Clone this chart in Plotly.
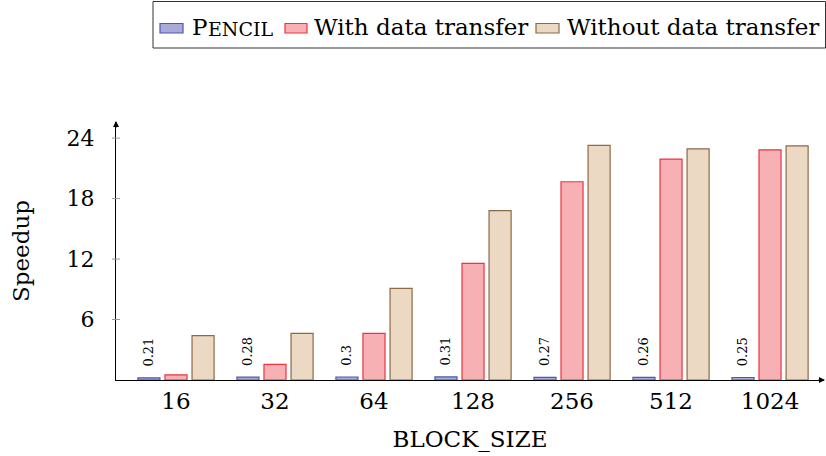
import plotly.graph_objects as go

categories = ["16", "32", "64", "128", "256", "512", "1024"]
pencil = [0.21, 0.28, 0.30, 0.31, 0.27, 0.26, 0.25]
with_transfer = [0.5, 1.56, 4.63, 11.57, 19.67, 21.92, 22.84]
without_transfer = [4.4, 4.63, 9.09, 16.8, 23.28, 22.94, 23.24]
pencil_labels = ["0.21", "0.28", "0.3", "0.31", "0.27", "0.26", "0.25"]
y_ticks = [6, 12, 18, 24]

W, H = 826, 456
ML, MR, MT, MB = 116, 2, 122, 76
PW, PH = W - ML - MR, H - MT - MB
FONT = "DejaVu Serif"

def px(x):
    return (x - ML) / PW

def py(y):
    return (H - MB - y) / PH

styles = [
    ("Pencil", pencil, "#a9a9da", "#4a5aae"),
    ("With data transfer", with_transfer, "#f7b0b3", "#ee3340"),
    ("Without data transfer", without_transfer, "#ecd9c4", "#8c6a46"),
]

fig = go.Figure()
for i, (name, vals, fill, line) in enumerate(styles):
    kw = {}
    if i == 0:
        kw = dict(text=pencil_labels, texttemplate="\u00a0\u00a0%{text}",
                  textposition="outside", textangle=-90,
                  textfont=dict(family=FONT, size=13, color="black"),
                  constraintext="none", cliponaxis=False)
    fig.add_trace(go.Bar(x=categories, y=vals, name=name, showlegend=False,
                         marker=dict(color=fill, line=dict(color=line, width=1.2)),
                         **kw))

shapes = []
# y tick marks (both sides of axis)
for t in y_ticks:
    shapes.append(dict(type="line", xref="paper", yref="y", x0=px(112), x1=px(120),
                       y0=t, y1=t, line=dict(color="#999999", width=1)))

# legend box
shapes.append(dict(type="rect", xref="paper", yref="paper", x0=px(153), x1=px(825.5),
                   y0=py(48), y1=py(1.5), line=dict(color="#333333", width=1),
                   fillcolor="white", layer="above"))
icons = [(160, 183), (285, 307), (536, 559)]
for (x0, x1), (_, _, fill, line) in zip(icons, styles):
    shapes.append(dict(type="rect", xref="paper", yref="paper", x0=px(x0), x1=px(x1),
                       y0=py(33), y1=py(23.5), line=dict(color=line, width=1.2),
                       fillcolor=fill, layer="above"))

annotations = []
# legend texts: (text, left x, font size, y shift)
leg_items = [("P", 190, 23, 0), ("ENCIL", 205.5, 19, -1.5),
             ("With data transfer", 312, 23, 0),
             ("Without data transfer", 565, 23, 0)]
for t, x, s, sh in leg_items:
    annotations.append(dict(text=t, xref="paper", yref="paper", x=px(x), y=py(27),
                            xanchor="left", yanchor="middle", yshift=sh,
                            showarrow=False,
                            font=dict(family=FONT, size=s, color="black")))

# axis arrows
annotations.append(dict(xref="paper", yref="paper", x=px(116), y=py(121), ax=0, ay=8,
                        axref="pixel", ayref="pixel", showarrow=True, arrowhead=2,
                        arrowsize=1, arrowwidth=1.2, arrowcolor="black", text=""))
annotations.append(dict(xref="paper", yref="paper", x=px(825), y=py(380), ax=-8, ay=0,
                        axref="pixel", ayref="pixel", showarrow=True, arrowhead=2,
                        arrowsize=1, arrowwidth=1.2, arrowcolor="black", text=""))

fig.update_layout(
    width=W, height=H,
    margin=dict(l=ML, r=MR, t=MT, b=MB),
    paper_bgcolor="white", plot_bgcolor="white",
    barmode="group", bargap=0.18, bargroupgap=0.185,
    font=dict(family=FONT, size=23, color="black"),
    shapes=shapes, annotations=annotations,
    xaxis=dict(range=[-0.606, 6.545], showline=True, linecolor="black", linewidth=1.2,
               ticks="", showgrid=False, zeroline=False, automargin=False,
               tickfont=dict(family=FONT, size=23),
               title=dict(text="BLOCK_SIZE", standoff=18, font=dict(family=FONT, size=23))),
    yaxis=dict(range=[0, 25.6], showline=True, linecolor="black", linewidth=1.2,
               tickvals=y_ticks, ticks="", showgrid=False, zeroline=False, automargin=False,
               ticklabelstandoff=16, tickfont=dict(family=FONT, size=22),
               title=dict(text="Speedup", standoff=30, font=dict(family=FONT, size=23))),
)

fig.write_html("out.html", config={"displayModeBar": False},
               post_script="document.body.style.margin='0';document.body.style.padding='0';")
